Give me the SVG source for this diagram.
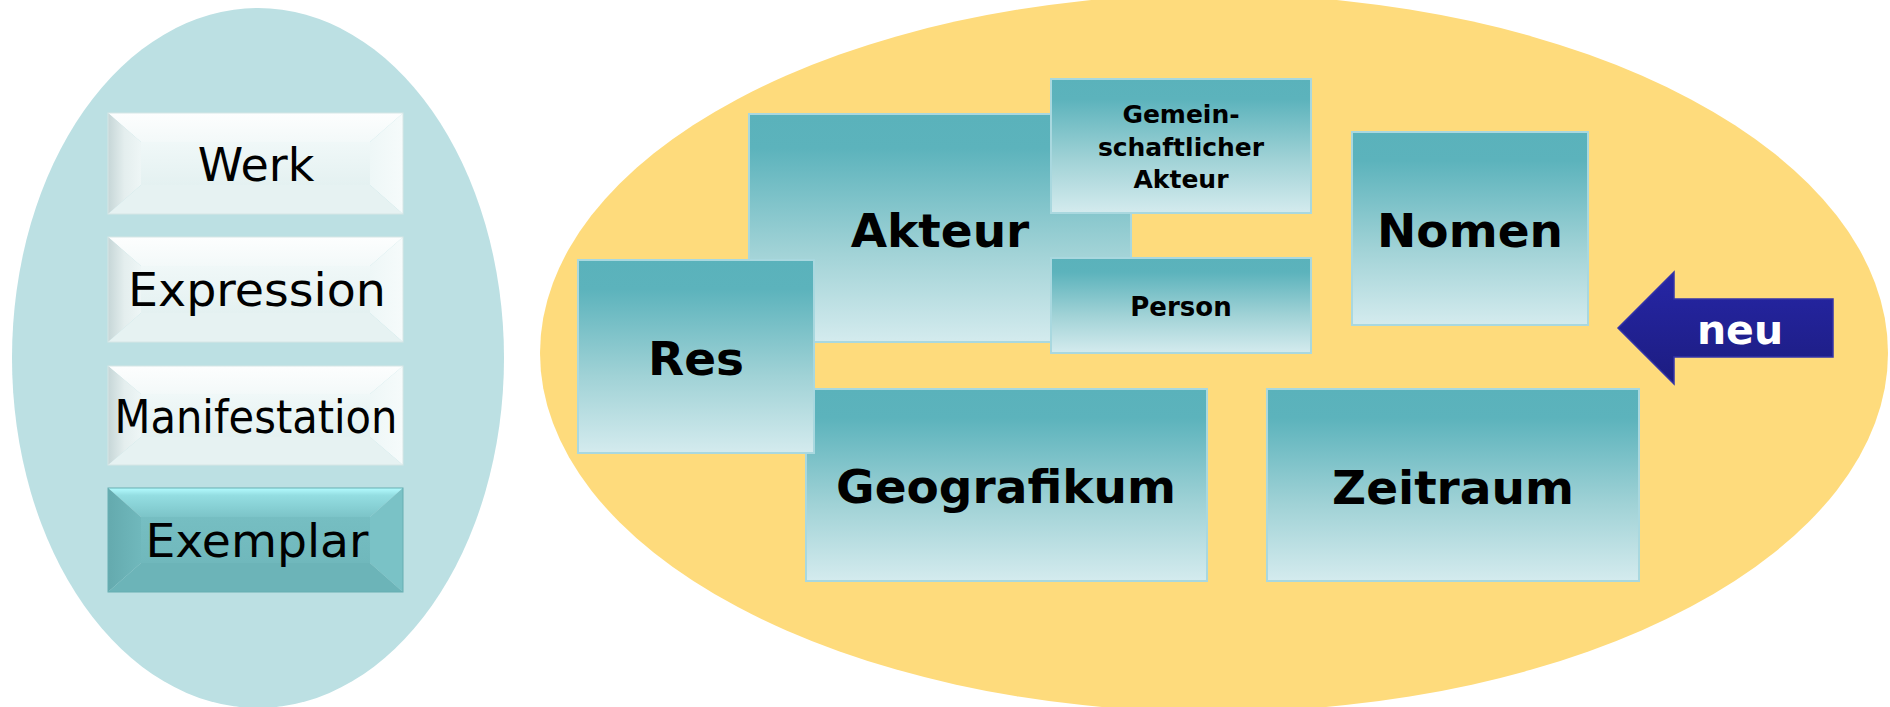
<svg xmlns="http://www.w3.org/2000/svg" width="1890" height="707" viewBox="0 0 1890 707">
<defs>
<linearGradient id="teal" x1="0" y1="0" x2="0" y2="1">
<stop offset="0" stop-color="#5ab2bb"/>
<stop offset="0.15" stop-color="#5cb3bc"/>
<stop offset="0.6" stop-color="#a0d2d6"/>
<stop offset="1" stop-color="#d4ebee"/>
</linearGradient>
<linearGradient id="lightFace" x1="0" y1="0" x2="0" y2="1">
<stop offset="0" stop-color="#f0f8f8"/>
<stop offset="1" stop-color="#e4f1f1"/>
</linearGradient>
<linearGradient id="lightTop" x1="0" y1="0" x2="0" y2="1">
<stop offset="0" stop-color="#fdfefe"/>
<stop offset="1" stop-color="#f3f9f9"/>
</linearGradient>
<linearGradient id="lightLeft" x1="0" y1="0" x2="1" y2="0">
<stop offset="0" stop-color="#c6d6d7"/>
<stop offset="0.5" stop-color="#e4eeee"/>
<stop offset="1" stop-color="#eef6f6"/>
</linearGradient>
<linearGradient id="lightRight" x1="0" y1="0" x2="1" y2="0">
<stop offset="0" stop-color="#eef7f7"/>
<stop offset="1" stop-color="#f6fbfb"/>
</linearGradient>
<linearGradient id="exFace" x1="0" y1="0" x2="0" y2="1">
<stop offset="0" stop-color="#76bec2"/>
<stop offset="1" stop-color="#70b8bc"/>
</linearGradient>
<linearGradient id="exTop" x1="0" y1="0" x2="0" y2="1">
<stop offset="0" stop-color="#b4fcff"/>
<stop offset="0.25" stop-color="#94dee2"/>
<stop offset="1" stop-color="#7cc4c8"/>
</linearGradient>
<linearGradient id="exLeft" x1="0" y1="0" x2="1" y2="0">
<stop offset="0" stop-color="#64aaae"/>
<stop offset="1" stop-color="#70b8bc"/>
</linearGradient>
<linearGradient id="navy" x1="0" y1="0" x2="0" y2="1">
<stop offset="0" stop-color="#2626a6"/>
<stop offset="1" stop-color="#1c1c80"/>
</linearGradient>
<style>
.rbox{fill:url(#teal);stroke:#a9d8df;stroke-width:2}
.big{font-family:"DejaVu Sans",Verdana,sans-serif;font-weight:bold;font-size:47px;fill:#000;text-anchor:middle}
.small{font-family:"DejaVu Sans",Verdana,sans-serif;font-weight:bold;font-size:25px;fill:#000;text-anchor:middle}
.lt{font-family:"DejaVu Sans",Verdana,sans-serif;font-size:46px;fill:#000;text-anchor:middle}
.bvT{fill:url(#lightTop)}
.bvL{fill:url(#lightLeft)}
.bvR{fill:url(#lightRight)}
.bvB{fill:#e6f2f2}
.face{fill:url(#lightFace)}
.edge{fill:none;stroke:#d6e6e6;stroke-width:1}
</style>
</defs>
<rect width="1890" height="707" fill="#ffffff"/>
<ellipse cx="258" cy="358" rx="246" ry="350" fill="#bce0e3"/>
<ellipse cx="1214" cy="353" rx="674" ry="359" fill="#fedb7c"/>

<g id="werk">
<polygon class="bvT" points="108,113 403,113 370,142 141,142"/>
<polygon class="bvL" points="108,113 141,142 141,185 108,214"/>
<polygon class="bvR" points="403,113 370,142 370,185 403,214"/>
<polygon class="bvB" points="108,214 141,185 370,185 403,214"/>
<rect class="face" x="141" y="142" width="229" height="43"/>
<rect class="edge" x="108" y="113" width="295" height="101"/>
<text class="lt" x="256" y="181">Werk</text>
</g>
<g id="expression">
<polygon class="bvT" points="108,237 403,237 370,266 141,266"/>
<polygon class="bvL" points="108,237 141,266 141,313 108,342"/>
<polygon class="bvR" points="403,237 370,266 370,313 403,342"/>
<polygon class="bvB" points="108,342 141,313 370,313 403,342"/>
<rect class="face" x="141" y="266" width="229" height="47"/>
<rect class="edge" x="108" y="237" width="295" height="105"/>
<text class="lt" x="257" y="306" textLength="258" lengthAdjust="spacingAndGlyphs">Expression</text>
</g>
<g id="manifestation">
<polygon class="bvT" points="108,366 403,366 370,394 141,394"/>
<polygon class="bvL" points="108,366 141,394 141,437 108,465"/>
<polygon class="bvR" points="403,366 370,394 370,437 403,465"/>
<polygon class="bvB" points="108,465 141,437 370,437 403,465"/>
<rect class="face" x="141" y="394" width="229" height="43"/>
<rect class="edge" x="108" y="366" width="295" height="99"/>
<text class="lt" x="256" y="433" textLength="283" lengthAdjust="spacingAndGlyphs">Manifestation</text>
</g>
<g id="exemplar">
<polygon fill="url(#exTop)" points="108,488 403,488 370,517 141,517"/>
<polygon fill="url(#exLeft)" points="108,488 141,517 141,563 108,592"/>
<polygon fill="#7ac2c6" points="403,488 370,517 370,563 403,592"/>
<polygon fill="#6cb4b8" points="108,592 141,563 370,563 403,592"/>
<rect fill="url(#exFace)" x="141" y="517" width="229" height="46"/>
<rect x="108" y="488" width="295" height="104" fill="none" stroke="#66aeb2" stroke-width="1"/>
<text class="lt" x="257" y="557" textLength="223" lengthAdjust="spacingAndGlyphs">Exemplar</text>
</g>

<g id="akteur">
<rect class="rbox" x="749" y="114" width="382" height="228"/>
<text class="big" x="940" y="247">Akteur</text>
</g>
<g id="gemeinschaftlicher-akteur">
<rect class="rbox" x="1051" y="79" width="260" height="134"/>
<text class="small" x="1181" y="123">Gemein-</text>
<text class="small" x="1181" y="156">schaftlicher</text>
<text class="small" x="1181" y="188">Akteur</text>
</g>
<g id="person">
<rect class="rbox" x="1051" y="258" width="260" height="95"/>
<text class="small" x="1181" y="316" style="font-size:26px">Person</text>
</g>
<g id="nomen">
<rect class="rbox" x="1352" y="132" width="236" height="193"/>
<text class="big" x="1470" y="247">Nomen</text>
</g>
<g id="geografikum">
<rect class="rbox" x="806" y="389" width="401" height="192"/>
<text class="big" x="1006" y="503">Geografikum</text>
</g>
<g id="res">
<rect class="rbox" x="578" y="260" width="236" height="193"/>
<text class="big" x="696" y="375">Res</text>
</g>
<g id="zeitraum">
<rect class="rbox" x="1267" y="389" width="372" height="192"/>
<text class="big" x="1453" y="504">Zeitraum</text>
</g>
<g id="neu">
<polygon points="1618,328 1674,272 1674,299 1833,299 1833,357 1674,357 1674,384" fill="url(#navy)" stroke="#3434a8" stroke-width="1.5"/>
<text x="1740" y="344" style="font-family:'DejaVu Sans',Verdana,sans-serif;font-weight:bold;font-size:41px;fill:#ffffff;text-anchor:middle">neu</text>
</g>
<g id="connectors"></g>
</svg>
